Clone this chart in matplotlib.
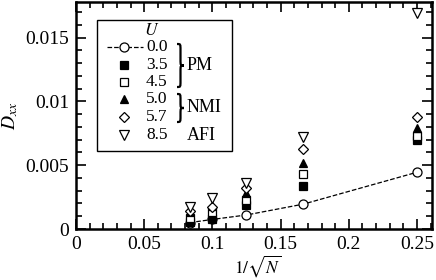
import numpy as np
import matplotlib
matplotlib.use("Agg")
import matplotlib.pyplot as plt
from matplotlib.path import Path
from matplotlib.patches import PathPatch, Rectangle
from matplotlib.ticker import MultipleLocator

plt.rcParams['font.family'] = 'serif'
plt.rcParams['font.serif'] = ['Liberation Serif', 'DejaVu Serif']
plt.rcParams['mathtext.fontset'] = 'stix'

# system sizes and D_xx values
N_sites = np.array([144, 100, 64, 36, 16])
inv_sqrt_N = 1.0 / np.sqrt(N_sites)

U_labels = ['0.0', '3.5', '4.5', '5.0', '5.7', '8.5']
D_U00 = [0.0005, 0.00075, 0.0011, 0.00195, 0.00445]
D_U35 = [0.00055, 0.0008, 0.0019, 0.0034, 0.0070]
D_U45 = [0.0009, 0.0013, 0.0023, 0.0043, 0.0073]
D_U50 = [0.0013, 0.0018, 0.0028, 0.0052, 0.0079]
D_U57 = [0.0014, 0.0017, 0.0032, 0.0063, 0.0088]
D_U85 = [0.0017, 0.0024, 0.0036, 0.0072, 0.0169]

styles = [
    dict(marker='o', mfc='white', mec='black', ms=6.5, ls='--', color='black', lw=0.9),
    dict(marker='s', mfc='black', mec='black', ms=5.5, ls='none'),
    dict(marker='s', mfc='white', mec='black', ms=5.5, ls='none'),
    dict(marker='^', mfc='black', mec='black', ms=6, ls='none'),
    dict(marker='D', mfc='white', mec='black', ms=5, ls='none'),
    dict(marker='v', mfc='white', mec='black', ms=6.5, ls='none'),
]
series = [D_U00, D_U35, D_U45, D_U50, D_U57, D_U85]

fig = plt.figure(figsize=(4.36, 2.80), dpi=100)
ax = fig.add_axes([76/436, 1 - 229/280, 356/436, 227/280])

for vals, st in zip(series, styles):
    ax.plot(inv_sqrt_N, vals, mew=0.9, clip_on=False, **st)

ax.set_xlim(0, 0.261)
ax.set_ylim(0, 0.0178)
ax.xaxis.set_minor_locator(MultipleLocator(0.01))
ax.yaxis.set_minor_locator(MultipleLocator(0.001))
ax.set_xticks([0, 0.05, 0.1, 0.15, 0.2, 0.25])
ax.set_xticklabels(['0', '0.05', '0.1', '0.15', '0.2', '0.25'])
ax.set_yticks([0, 0.005, 0.01, 0.015])
ax.set_yticklabels(['0', '0.005', '0.01', '0.015'])
ax.tick_params(which='both', direction='in', top=True, right=True, labelsize=14, width=1.2)
ax.tick_params(which='major', length=7, pad=5)
ax.tick_params(which='minor', length=4)
for sp in ax.spines.values():
    sp.set_linewidth(1.8)

ax.set_ylabel(r'$D_{xx}$', fontsize=14, labelpad=4)

# overlay in pixel coordinates for x label and hand-made legend
ov = fig.add_axes([0, 0, 1, 1], facecolor='none')
ov.set_xlim(0, 436)
ov.set_ylim(280, 0)
ov.axis('off')

ov.text(258, 266, r'$1/\sqrt{N}$', fontsize=12.5, ha='center', va='center')

ov.add_patch(Rectangle((97, 20), 135, 131, fill=False, lw=1.0, ec='black'))
ov.text(152, 31, r'$U$', fontsize=12.5, ha='center', va='center')
row_y = [47, 65, 82, 99, 117, 135]
for lab, st, yy in zip(U_labels, styles, row_y):
    if st['ls'] == '--':
        ov.plot([107, 143], [yy, yy], ls='--', color='black', lw=0.9)
    ov.plot([124], [yy], marker=st['marker'], mfc=st['mfc'], mec='black',
            ms=st['ms'], mew=0.9, ls='none')
    ov.text(146, yy, lab, fontsize=12.5, ha='left', va='center')


def brace(axo, x0, yt, yb, w=7, r=6):
    xm = x0 + w / 2
    ym = (yt + yb) / 2
    verts = [(x0, yt), (xm, yt), (xm, yt), (xm, yt + r),
             (xm, ym - r),
             (xm, ym), (xm, ym), (x0 + w, ym),
             (xm, ym), (xm, ym), (xm, ym + r),
             (xm, yb - r),
             (xm, yb), (xm, yb), (x0, yb)]
    codes = [Path.MOVETO, Path.CURVE4, Path.CURVE4, Path.CURVE4,
             Path.LINETO,
             Path.CURVE4, Path.CURVE4, Path.CURVE4,
             Path.CURVE4, Path.CURVE4, Path.CURVE4,
             Path.LINETO,
             Path.CURVE4, Path.CURVE4, Path.CURVE4]
    axo.add_patch(PathPatch(Path(verts, codes), fill=False, lw=1.6, ec='black'))


brace(ov, 177, 44, 87)
brace(ov, 177, 94, 122)
ov.text(187, 66, 'PM', fontsize=13, ha='left', va='center')
ov.text(187, 108, 'NMI', fontsize=13, ha='left', va='center')
ov.text(187, 135, 'AFI', fontsize=13, ha='left', va='center')

fig.savefig('out.png', dpi=100)
